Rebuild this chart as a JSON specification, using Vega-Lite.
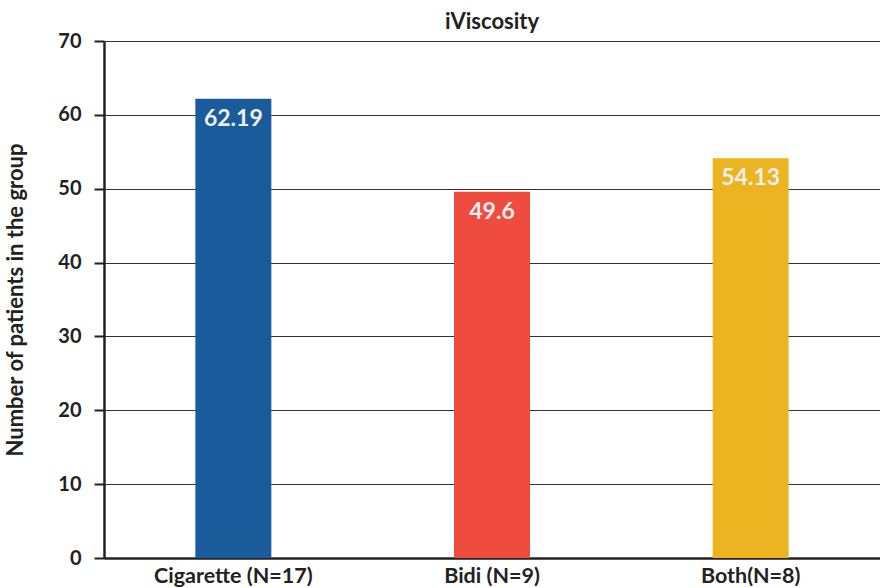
{
  "$schema": "https://vega.github.io/schema/vega-lite/v6.json",
  "autosize": "none",
  "width": 776,
  "height": 517,
  "padding": {"left": 104, "top": 41, "right": 0, "bottom": 30},
  "background": "white",
  "title": {"text": "iViscosity", "font": "Lato", "fontSize": 22, "fontWeight": "bold", "color": "#222", "offset": -3, "anchor": "middle"},
  "config": {"view": {"stroke": null}, "font": "Lato"},
  "data": {"values": [
    {"group": "Cigarette (N=17)", "value": 62.19, "label": "62.19"},
    {"group": "Bidi (N=9)", "value": 49.6, "label": "49.6"},
    {"group": "Both(N=8)", "value": 54.13, "label": "54.13"}
  ]},
  "encoding": {
    "x": {"field": "group", "type": "nominal", "sort": null,
      "scale": {"paddingInner": 0, "paddingOuter": 0},
      "axis": {"title": null, "labelAngle": 0, "labelFont": "Lato", "labelFontSize": 21.5, "labelFontWeight": "bold", "labelColor": "#222", "ticks": false, "labelPadding": 7, "domainColor": "#222", "domainWidth": 2.5, "grid": false}},
    "y": {"field": "value", "type": "quantitative",
      "scale": {"domain": [0, 70]},
      "axis": {"title": "Number of patients in the group", "titleFont": "Lato", "titleFontSize": 22, "titleFontWeight": "bold", "titleColor": "#222", "titlePadding": 30,
        "values": [0, 10, 20, 30, 40, 50, 60, 70], "labelFont": "Lato", "labelFontSize": 20, "labelFontWeight": "bold", "labelColor": "#222", "labelPadding": 13,
        "tickSize": 10, "tickColor": "#222", "tickWidth": 2, "domainColor": "#222", "domainWidth": 2.5,
        "grid": true, "gridColor": "#333", "gridWidth": 1.2}}
  },
  "layer": [
    {"mark": {"type": "bar", "size": 76},
     "encoding": {"color": {"field": "group", "type": "nominal", "sort": null, "legend": null,
       "scale": {"domain": ["Cigarette (N=17)", "Bidi (N=9)", "Both(N=8)"], "range": ["#1a5c9b", "#ef4b3e", "#ecb421"]}}}},
    {"mark": {"type": "text", "baseline": "top", "dy": 9, "font": "Lato", "fontSize": 23, "fontWeight": "bold", "color": "#f0f0f0"},
     "encoding": {"text": {"field": "label"}}}
  ]
}
